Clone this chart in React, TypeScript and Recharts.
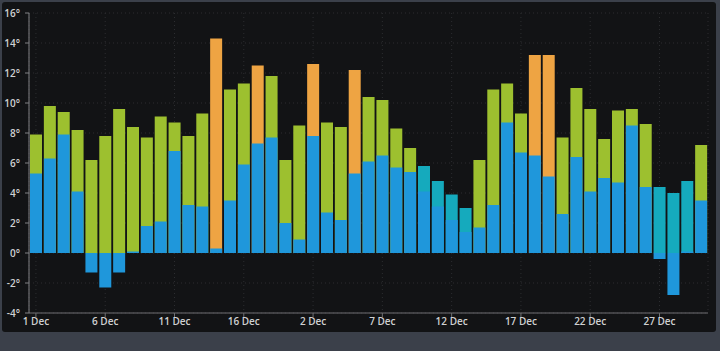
import React from 'react';
import { BarChart, Bar, XAxis, YAxis, CartesianGrid, Cell } from 'recharts';

// day labels: two runs of December readings
const days = [
  '1 Dec', '2 Dec', '3 Dec', '4 Dec', '5 Dec', '6 Dec', '7 Dec', '8 Dec', '9 Dec', '10 Dec',
  '11 Dec', '12 Dec', '13 Dec', '14 Dec', '15 Dec', '16 Dec', '17 Dec', '18 Dec', '19 Dec',
  '1 Dec', '2 Dec', '3 Dec', '4 Dec', '5 Dec', '6 Dec', '7 Dec', '8 Dec', '9 Dec', '10 Dec',
  '11 Dec', '12 Dec', '13 Dec', '14 Dec', '15 Dec', '16 Dec', '17 Dec', '18 Dec', '19 Dec', '20 Dec',
  '21 Dec', '22 Dec', '23 Dec', '24 Dec', '25 Dec', '26 Dec', '27 Dec', '28 Dec', '29 Dec', '30 Dec'
];

const maxTemp = [
  7.9, 9.8, 9.4, 8.2, 6.2, 7.8, 9.6, 8.4, 7.7, 9.1, 8.7, 7.8, 9.3, 14.3, 10.9, 11.3, 12.5, 11.8, 6.2,
  8.5, 12.6, 8.7, 8.4, 12.2, 10.4, 10.2, 8.3, 7.0, 5.8, 4.8, 3.9, 3.0, 6.2, 10.9, 11.3, 9.3, 13.2,
  13.2, 7.7, 11.0, 9.6, 7.6, 9.5, 9.6, 8.6, 4.4, 4.0, 4.8, 7.2
];

const minTemp = [
  5.3, 6.3, 7.9, 4.1, -1.3, -2.3, -1.3, 0.1, 1.8, 2.1, 6.8, 3.2, 3.1, 0.3, 3.5, 5.9, 7.3, 7.7, 2.0,
  0.9, 7.8, 2.7, 2.2, 5.3, 6.1, 6.5, 5.7, 5.4, 4.1, 3.1, 2.2, 1.4, 1.7, 3.2, 8.7, 6.7, 6.5, 5.1, 2.6,
  6.4, 4.1, 5.0, 4.7, 8.5, 4.4, -0.4, -2.8, 0.1, 3.5
];

const yTicks = [-4, -2, 0, 2, 4, 6, 8, 10, 12, 14, 16];

const chartData = days.map((day, i) => ({ day, max: maxTemp[i], min: minTemp[i] }));

const maxColor = (v: number) => {
  if (v > 12) return '#eea443';
  if (v < 6) return '#15aabd';
  return '#9dc02f';
};

const tickStyle = { fill: '#cfd0d2', fontSize: 10, fontWeight: 600, fontFamily: '"Open Sans", sans-serif' };

export default function App() {
  return (
    <div style={{ position: 'absolute', left: 0, top: 0, width: 720, height: 351, background: '#3b404a' }}>
      <div
        style={{
          position: 'absolute',
          left: 2,
          top: 2,
          width: 714,
          height: 330,
          background: '#121315',
          borderRadius: 3
        }}
      />
      <div style={{ position: 'absolute', left: 0, top: 0 }}>
        <BarChart
          width={720}
          height={351}
          data={chartData}
          margin={{ top: 13, right: 12, left: 0, bottom: 18 }}
        >
          <CartesianGrid stroke="#2c2d30" strokeDasharray="1 3" xAxisId="a" />
          <XAxis
            xAxisId="a"
            dataKey="day"
            interval={4}
            height={20}
            tickSize={4}
            tickMargin={1}
            stroke="#6e6f72"
            tick={tickStyle}
          />
          <XAxis xAxisId="b" dataKey="day" hide />
          <YAxis
            domain={[-4, 16]}
            ticks={yTicks}
            width={29}
            tickSize={4}
            tickMargin={5}
            stroke="#808184"
            tick={tickStyle}
            tickFormatter={(v: number) => `${v}°`}
            interval={0}
          />
          <Bar dataKey="max" xAxisId="a" barSize={12} isAnimationActive={false}>
            {chartData.map((d, i) => (
              <Cell key={i} fill={maxColor(d.max)} />
            ))}
          </Bar>
          <Bar dataKey="min" xAxisId="b" barSize={12} fill="#1f97db" isAnimationActive={false} />
        </BarChart>
      </div>
    </div>
  );
}
